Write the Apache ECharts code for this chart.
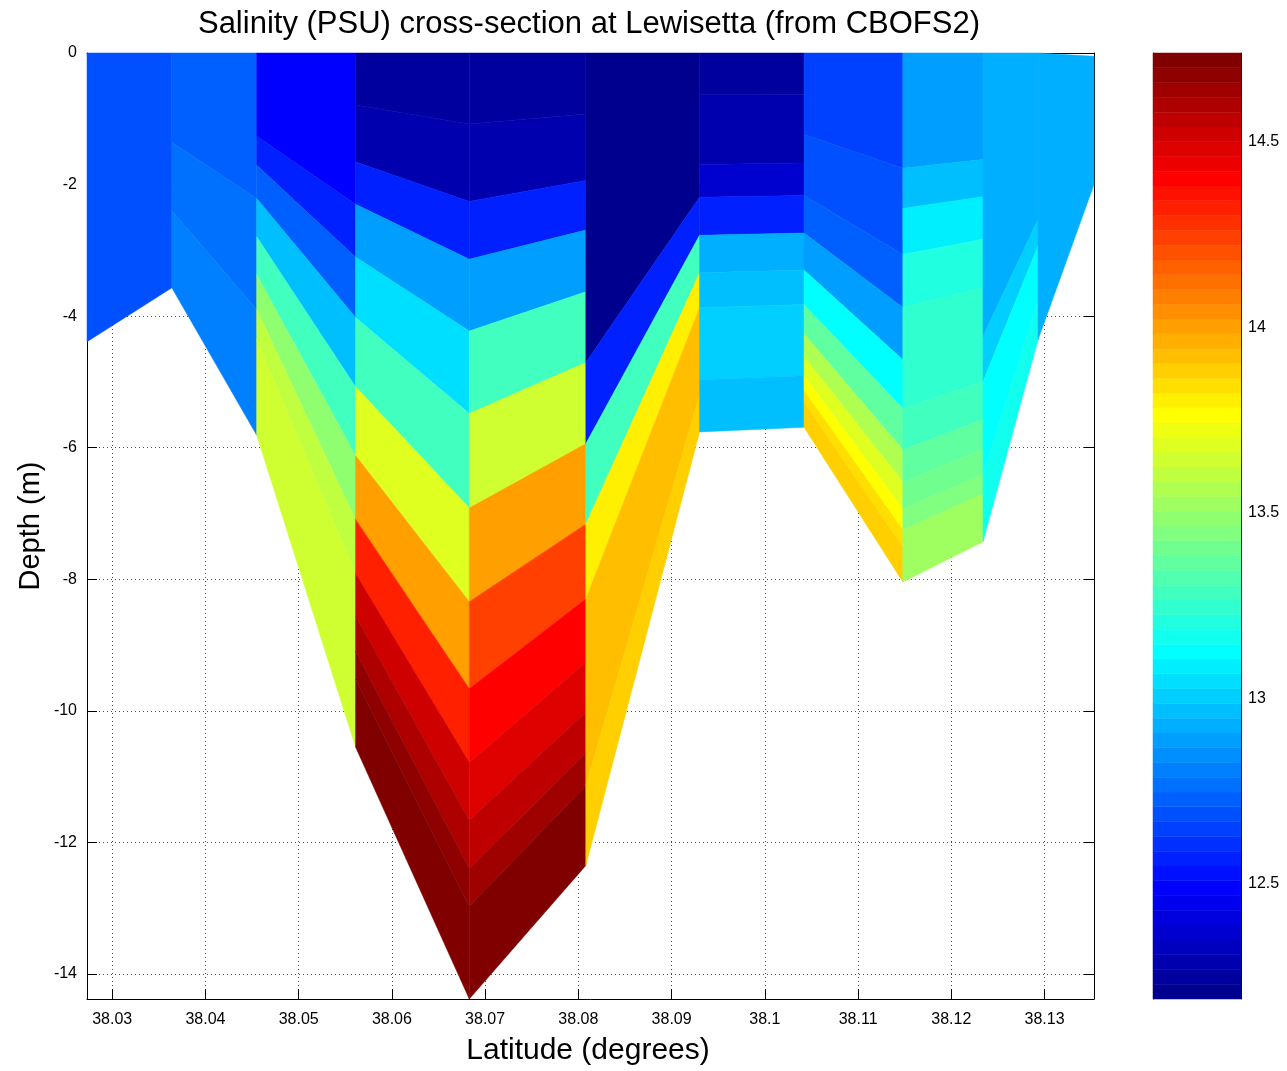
<!DOCTYPE html>
<html>
<head>
<meta charset="utf-8">
<title>Salinity cross-section at Lewisetta</title>
<script src="https://cdn.jsdelivr.net/npm/echarts@6/dist/echarts.min.js"></script>
<style>
  html, body { margin: 0; padding: 0; background: #ffffff; }
  #chart { width: 1287px; height: 1071px; }
</style>
</head>
<body>
<div id="chart"></div>
<script>
// ---- Transect geometry -------------------------------------------------
// Station latitudes along the section (degrees N)
const latitude = [38.0273, 38.0364, 38.0455, 38.0561, 38.0683, 38.0808,
                  38.0930, 38.1042, 38.1148, 38.1234, 38.1293, 38.1353];
// Water depth at each station (m)
const bottomDepth = [4.39, 3.57, 5.81, 10.55, 14.38, 12.35,
                     5.76, 5.69, 8.04, 7.43, 4.36, 2.00];
// Free-surface elevation at each station (m)
const surfaceElevation = [0, 0, 0, 0, 0, 0, 0, 0, 0, 0, 0, -0.05];
// Layer interfaces as a fraction of the water column (0 = surface, 1 = bottom)
const layerInterfaces = [0, 0.02, 0.045, 0.075, 0.11, 0.157, 0.218, 0.294, 0.381,
                         0.481, 0.580, 0.672, 0.750, 0.811, 0.862, 0.902, 0.935,
                         0.960, 0.978, 0.990, 1];

// ---- Salinity (PSU) per station, surface layer first --------------------
const salinityStation01 = [12.69, 12.69, 12.69, 12.69, 12.69, 12.69, 12.69, 12.69, 12.69, 12.69,
                           12.69, 12.69, 12.69, 12.69, 12.69, 12.69, 12.69, 12.69, 12.69, 12.69];
const salinityStation02 = [12.73, 12.73, 12.73, 12.73, 12.73, 12.73, 12.73, 12.73, 12.77, 12.77,
                           12.77, 12.81, 12.81, 12.81, 12.81, 12.81, 12.81, 12.81, 12.81, 12.81];
const salinityStation03 = [12.49, 12.49, 12.49, 12.49, 12.49, 12.49, 12.57, 12.73, 12.97, 13.29,
                           13.49, 13.61, 13.65, 13.65, 13.65, 13.65, 13.65, 13.65, 13.65, 13.65];
const salinityStation04 = [12.25, 12.25, 12.25, 12.29, 12.29, 12.57, 12.89, 13.05, 13.29, 13.69,
                           14.00, 14.32, 14.52, 14.60, 14.68, 14.74, 14.74, 14.74, 14.74, 14.74];
const salinityStation05 = [12.25, 12.25, 12.25, 12.29, 12.29, 12.57, 12.89, 13.29, 13.65, 14.00,
                           14.24, 14.40, 14.48, 14.56, 14.64, 14.74, 14.74, 14.74, 14.74, 14.74];
const salinityStation06 = [12.19, 12.19, 12.19, 12.19, 12.19, 12.19, 12.19, 12.19, 12.57, 13.29,
                           13.81, 13.92, 13.92, 13.92, 13.92, 13.89, 13.89, 13.89, 13.89, 13.89];
const salinityStation07 = [12.25, 12.25, 12.25, 12.25, 12.29, 12.29, 12.29, 12.37, 12.57, 12.93,
                           12.97, 13.01, 13.01, 13.01, 12.97, 12.97, 12.97, 12.97, 12.97, 12.97];
const salinityStation08 = [12.65, 12.65, 12.65, 12.65, 12.65, 12.65, 12.69, 12.69, 12.73, 12.89,
                           13.13, 13.37, 13.57, 13.69, 13.77, 13.85, 13.89, 13.89, 13.89, 13.89];
const salinityStation09 = [12.89, 12.89, 12.89, 12.89, 12.89, 12.89, 12.97, 13.09, 13.21, 13.25,
                           13.25, 13.29, 13.37, 13.41, 13.45, 13.53, 13.53, 13.53, 13.53, 13.53];
const salinityStation10 = [12.93, 12.93, 12.93, 12.93, 12.93, 12.93, 12.93, 12.93, 12.93, 12.93,
                           13.01, 13.13, 13.13, 13.13, 13.17, 13.17, 13.17, 13.17, 13.17, 13.17];
const salinityStation11 = [12.93, 12.93, 12.93, 12.93, 12.93, 12.93, 12.93, 12.93, 12.93, 12.93,
                           12.93, 12.93, 12.93, 12.93, 12.93, 12.93, 12.93, 12.93, 12.93, 12.93];

// ---- Tick labels --------------------------------------------------------
const latitudeTicks = [38.03, 38.04, 38.05, 38.06, 38.07, 38.08, 38.09, 38.1, 38.11, 38.12, 38.13];
const depthTicks = [-14, -12, -10, -8, -6, -4, -2, 0];
const salinityTicks = [12.5, 13, 13.5, 14, 14.5];

// Each cell spans station i..i+1 and takes the colour of station i (flat pcolor)
const salinity = [salinityStation01, salinityStation02, salinityStation03, salinityStation04,
                  salinityStation05, salinityStation06, salinityStation07, salinityStation08,
                  salinityStation09, salinityStation10, salinityStation11];

const allValues = [].concat.apply([], salinity);
const cMin = Math.min.apply(null, allValues);
const cMax = Math.max.apply(null, allValues);
const nColors = 64;

// MATLAB-style jet colormap with 64 entries (index 1..64)
function jetRGB(i) {
  const r = i <= 24 ? 0 : i <= 40 ? (i - 24) / 16 : i <= 55 ? 1 : (72 - i) / 16;
  const g = i <= 8 ? 0 : i <= 24 ? (i - 8) / 16 : i <= 39 ? 1 : i <= 55 ? (56 - i) / 16 : 0;
  const b = i <= 8 ? (i + 8) / 16 : i <= 23 ? 1 : i <= 39 ? (40 - i) / 16 : 0;
  return 'rgb(' + Math.round(r * 255) + ',' + Math.round(g * 255) + ',' + Math.round(b * 255) + ')';
}
function colorIndex(v) {
  const idx = Math.floor((v - cMin) / (cMax - cMin) * nColors) + 1;
  return Math.max(1, Math.min(nColors, idx));
}

// Depth (m, negative down) of interface k at station i
function interfaceDepth(i, k) {
  const eta = surfaceElevation[i];
  return eta - layerInterfaces[k] * (bottomDepth[i] + eta);
}

// Consecutive layers that fall in the same colour band are drawn as one
// quadrilateral: [station, first layer, last layer, salinity]
const cells = [];
salinity.forEach(function (column, i) {
  let start = 0;
  for (let k = 1; k <= column.length; k++) {
    if (k === column.length || colorIndex(column[k]) !== colorIndex(column[start])) {
      cells.push([i, start, k - 1, column[start]]);
      start = k;
    }
  }
});

const colorLevels = [];
for (let l = 0; l < nColors; l++) colorLevels.push([l]);

const fontFamily = '"Liberation Sans", Arial, Helvetica, sans-serif';
const ink = '#000000';
const gridDots = { color: '#4d4d4d', width: 1, type: [1, 3] };

const chart = echarts.init(document.getElementById('chart'), null, { renderer: 'canvas' });

const latMin = latitude[0];
const latMax = latitude[latitude.length - 1];
const depthMin = -Math.max.apply(null, bottomDepth);

function tickAxisCommon(extra) {
  return Object.assign({
    type: 'value',
    axisLine: { show: true, onZero: false, lineStyle: { color: ink, width: 1 } },
    splitLine: { show: false },
    axisLabel: { show: false }
  }, extra);
}

chart.setOption({
  animation: false,
  backgroundColor: '#ffffff',
  grid: [
    { left: 87, top: 53, width: 1007, height: 946, show: false },
    { left: 1153, top: 53, width: 88, height: 946, show: false }
  ],
  xAxis: [
    tickAxisCommon({
      gridIndex: 0, position: 'bottom', min: latMin, max: latMax,
      axisTick: { show: true, inside: true, length: 10, customValues: latitudeTicks, lineStyle: { color: ink } },
      axisLabel: { show: true, customValues: latitudeTicks, color: ink, fontSize: 16, fontFamily: fontFamily, margin: 13 },
      splitLine: { show: true, lineStyle: gridDots }
    }),
    tickAxisCommon({
      gridIndex: 0, position: 'top', min: latMin, max: latMax,
      axisTick: { show: true, inside: true, length: 10, customValues: latitudeTicks, lineStyle: { color: ink } }
    }),
    { gridIndex: 1, type: 'value', min: 0, max: 1, show: false }
  ],
  yAxis: [
    tickAxisCommon({
      gridIndex: 0, position: 'left', min: depthMin, max: 0,
      axisTick: { show: true, inside: true, length: 10, customValues: depthTicks, lineStyle: { color: ink } },
      axisLabel: { show: true, customValues: depthTicks, color: ink, fontSize: 16, fontFamily: fontFamily, margin: 10 },
      splitLine: { show: true, lineStyle: gridDots }
    }),
    tickAxisCommon({
      gridIndex: 0, position: 'right', min: depthMin, max: 0,
      axisTick: { show: true, inside: true, length: 10, customValues: depthTicks, lineStyle: { color: ink } }
    }),
    tickAxisCommon({
      gridIndex: 1, position: 'right', min: cMin, max: cMax,
      axisTick: { show: true, inside: true, length: 9, customValues: salinityTicks, lineStyle: { color: ink } },
      axisLabel: { show: true, customValues: salinityTicks, color: ink, fontSize: 16, fontFamily: fontFamily, margin: 7 }
    }),
    tickAxisCommon({
      gridIndex: 1, position: 'left', min: cMin, max: cMax,
      axisTick: { show: true, inside: true, length: 9, customValues: salinityTicks, lineStyle: { color: ink } }
    })
  ],
  series: [
    {
      // Salinity section: one quadrilateral per station interval and colour band
      type: 'custom',
      xAxisIndex: 0, yAxisIndex: 0,
      data: cells,
      z: 3,
      renderItem: function (params, api) {
        const i = api.value(0), k0 = api.value(1), k1 = api.value(2) + 1, v = api.value(3);
        const pts = [
          api.coord([latitude[i], interfaceDepth(i, k0)]),
          api.coord([latitude[i + 1], interfaceDepth(i + 1, k0)]),
          api.coord([latitude[i + 1], interfaceDepth(i + 1, k1)]),
          api.coord([latitude[i], interfaceDepth(i, k1)])
        ];
        const c = jetRGB(colorIndex(v));
        return { type: 'polygon', shape: { points: pts }, style: { fill: c, stroke: c, lineWidth: 0.5 } };
      }
    },
    {
      // Colour bar: one band per colormap entry
      type: 'custom',
      xAxisIndex: 2, yAxisIndex: 2,
      data: colorLevels,
      z: 3,
      renderItem: function (params, api) {
        const l = api.value(0);
        const lo = cMin + (cMax - cMin) * l / nColors;
        const hi = cMin + (cMax - cMin) * (l + 1) / nColors;
        const p0 = api.coord([0, hi]);
        const p1 = api.coord([1, lo]);
        const c = jetRGB(l + 1);
        return { type: 'rect', shape: { x: p0[0], y: p0[1], width: p1[0] - p0[0], height: p1[1] - p0[1] },
                 style: { fill: c, stroke: c, lineWidth: 0.5 } };
      }
    }
  ],
  graphic: [
    { type: 'text', x: 589, y: 24, z: 10,
      style: { text: 'Salinity (PSU) cross-section at Lewisetta (from CBOFS2)', fill: ink,
               font: '31px ' + fontFamily, textAlign: 'center', textVerticalAlign: 'middle' } },
    { type: 'text', x: 588, y: 1051, z: 10,
      style: { text: 'Latitude (degrees)', fill: ink,
               font: '30px ' + fontFamily, textAlign: 'center', textVerticalAlign: 'middle' } },
    { type: 'text', x: 31, y: 526, rotation: Math.PI / 2, z: 10,
      style: { text: 'Depth (m)', fill: ink,
               font: '29px ' + fontFamily, textAlign: 'center', textVerticalAlign: 'middle' } }
  ]
});
</script>
</body>
</html>
